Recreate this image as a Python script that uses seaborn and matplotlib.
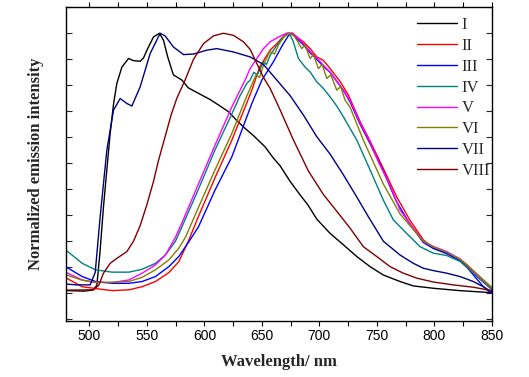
import numpy as np
import pandas as pd
import matplotlib
matplotlib.use("Agg")
import matplotlib.pyplot as plt
from matplotlib.ticker import MultipleLocator
import seaborn as sns

# emission spectra (wavelength in nm, normalized intensity)
wl_I = [480, 495, 503, 506.4, 509, 512.2, 515, 518, 521, 523.8, 528.2, 534, 538, 544, 547, 550,
        555.7, 561, 564.4, 568, 573, 580.4, 586, 594.8, 605, 613.7, 621, 628, 635.4, 643, 652.8, 660,
        665.9, 674.6, 683.3, 690, 697.8, 709.4, 721, 732.6, 744.2, 755.7, 770.2, 781.8, 799.2, 822, 850]
int_I = [0.01, 0.008, 0.012, 0.03, 0.15, 0.333, 0.47, 0.615, 0.73, 0.807, 0.87, 0.903, 0.895, 0.892, 0.905, 0.935,
         0.986, 1.0, 0.973, 0.91, 0.84, 0.82, 0.79, 0.769, 0.745, 0.72, 0.698, 0.665, 0.634, 0.605, 0.563, 0.52,
         0.49, 0.43, 0.378, 0.34, 0.285, 0.23, 0.186, 0.141, 0.102, 0.07, 0.045, 0.028, 0.019, 0.01, 0.002]

wl_II = [480, 493.7, 505.2, 519.7, 534.3, 545.8, 557.4, 569, 577.7, 586, 594.8, 609.3, 623.9, 641.3, 648, 657.2,
         663, 667, 671.7, 677, 680.4, 686.2, 692, 697.8, 703.5, 709.4, 718, 725.3, 735.5, 744.2, 755.7,
         767.4, 779, 790.5, 799.2, 810.9, 822.5, 828.3, 837, 850]
int_II = [0.058, 0.025, 0.018, 0.01, 0.013, 0.025, 0.045, 0.079, 0.121, 0.2, 0.295, 0.445, 0.589, 0.781, 0.87, 0.935,
          0.96, 0.98, 1.0, 1.0, 0.986, 0.967, 0.941, 0.909, 0.896, 0.864, 0.815, 0.762, 0.66, 0.585, 0.48,
          0.37, 0.28, 0.205, 0.175, 0.155, 0.128, 0.105, 0.065, 0.015]

wl_III = [480, 493.7, 505.2, 519.7, 534.3, 545.8, 557.4, 569, 577.7, 586, 594.8, 609.3, 623.9, 641.3, 650, 660,
          668, 673, 676, 680.4, 686.2, 692, 697.8, 703.5, 709.4, 715.2, 721, 726.8, 735.5, 744.2, 755.7,
          767.4, 779, 790.5, 799.2, 810.9, 822.5, 828.3, 836, 842.7, 848, 850]
int_III = [0.10, 0.064, 0.045, 0.038, 0.038, 0.045, 0.064, 0.102, 0.141, 0.195, 0.255, 0.397, 0.525, 0.73, 0.82, 0.89,
           0.955, 0.99, 1.0, 0.98, 0.955, 0.925, 0.9, 0.872, 0.85, 0.815, 0.78, 0.735, 0.65, 0.575, 0.47,
           0.35, 0.265, 0.195, 0.172, 0.152, 0.125, 0.1, 0.06, 0.025, 0.005, 0.0]

wl_IV = [480, 493.7, 505.2, 519.7, 534.3, 545.8, 557.4, 566.1, 574.8, 580.4, 594.8, 609.3, 623.9, 631, 636.9, 639.8,
         643, 646, 651.4, 654, 657.2, 663, 668.8, 674, 677.4, 681.8, 687.6, 692, 697.8, 703.5, 709.4, 715.2,
         721, 732.6, 744.2, 755.7, 764.4, 776, 787.6, 799.2, 810.9, 822.5, 828.3, 837, 850]
int_IV = [0.164, 0.115, 0.09, 0.081, 0.081, 0.092, 0.115, 0.147, 0.2, 0.255, 0.4, 0.552, 0.69, 0.76, 0.807, 0.82,
          0.85, 0.84, 0.89, 0.88, 0.915, 0.954, 0.986, 1.0, 0.967, 0.903, 0.87, 0.851, 0.813, 0.788, 0.755, 0.72,
          0.678, 0.589, 0.474, 0.358, 0.282, 0.23, 0.179, 0.154, 0.145, 0.122, 0.1, 0.065, 0.015]

wl_V = [480, 493.7, 505.2, 519.7, 534.3, 545.8, 557.4, 566.1, 574.8, 580.4, 594.8, 609.3, 623.9, 635.4, 639.8, 645.6,
        651.4, 657.2, 663, 667.3, 671.7, 676, 680.4, 686.2, 692, 697.8, 703.5, 709.4, 715.2, 721, 726.8,
        735.5, 744.2, 752, 761.6, 770.2, 781.8, 790.5, 799.2, 810.9, 822.5, 828.3, 837, 850]
int_V = [0.079, 0.051, 0.041, 0.041, 0.051, 0.077, 0.109, 0.147, 0.215, 0.27, 0.42, 0.57, 0.717, 0.82, 0.864, 0.903,
         0.941, 0.967, 0.982, 0.992, 1.0, 1.0, 0.986, 0.96, 0.93, 0.905, 0.877, 0.85, 0.815, 0.78, 0.74,
         0.655, 0.58, 0.5, 0.415, 0.32, 0.25, 0.2, 0.18, 0.16, 0.132, 0.11, 0.072, 0.022]

wl_VI = [480, 493.7, 505.2, 519.7, 534.3, 545.8, 557.4, 569, 577.7, 583.5, 594.8, 609.3, 623.9, 635.4, 641, 645,
         648, 652, 657, 661, 665, 670, 674, 678, 681, 684.7, 687.5, 692, 695, 699.2, 702.5, 706.5, 710,
         715.2, 718.5, 722.4, 726.8, 738.3, 755.7, 770.2, 781.8, 790.5, 799.2, 810.9, 822.5, 828.3, 837, 850]
int_VI = [0.07, 0.05, 0.042, 0.042, 0.045, 0.061, 0.09, 0.128, 0.173, 0.215, 0.33, 0.475, 0.615, 0.743, 0.80, 0.84,
          0.83, 0.885, 0.93, 0.92, 0.96, 0.99, 1.0, 0.99, 0.97, 0.941, 0.955, 0.903, 0.918, 0.864, 0.88, 0.826, 0.84,
          0.781, 0.795, 0.743, 0.715, 0.589, 0.42, 0.305, 0.245, 0.2, 0.178, 0.158, 0.13, 0.11, 0.075, 0.022]

wl_VII = [480, 489, 500.6, 505, 509.3, 515.1, 520.9, 526.7, 532.5, 536.9, 544.1, 552.8, 561.5, 565.8, 573.1,
          581.8, 590.5, 602.1, 610.8, 625.3, 639.8, 651.4, 663, 674.6, 686.2, 697.8, 709.4, 721, 732.6, 742.7,
          755.7, 770.2, 781.8, 790.5, 799.2, 810.9, 822.5, 834, 842.7, 850]
int_VII = [0.035, 0.032, 0.032, 0.08, 0.294, 0.55, 0.704, 0.749, 0.73, 0.72, 0.794, 0.922, 1.0, 0.99, 0.947,
           0.918, 0.92, 0.935, 0.941, 0.928, 0.909, 0.88, 0.82, 0.76, 0.685, 0.602, 0.535, 0.455, 0.37, 0.294,
           0.2, 0.147, 0.115, 0.096, 0.087, 0.077, 0.064, 0.045, 0.025, 0.005]

wl_VIII = [480, 503.5, 508, 512.2, 518, 523.8, 532.5, 538.3, 544.1, 549.9, 555.7, 560, 565.8, 571, 576,
           583.2, 590.5, 599.2, 607.9, 616.6, 625.3, 634, 639.8, 645.6, 651.4, 657.2, 665.9, 677.4, 690.5,
           703.5, 715.2, 726.8, 738.3, 750, 761.6, 773.1, 784.8, 799.2, 816.6, 834, 850]
int_VIII = [0.012, 0.013, 0.03, 0.077, 0.115, 0.134, 0.16, 0.2, 0.26, 0.34, 0.43, 0.51, 0.602, 0.685, 0.75,
            0.82, 0.9, 0.96, 0.99, 1.0, 0.992, 0.967, 0.938, 0.884, 0.83, 0.788, 0.705, 0.59, 0.47,
            0.38, 0.315, 0.25, 0.179, 0.141, 0.102, 0.077, 0.058, 0.043, 0.032, 0.023, 0.01]

samples = ["I", "II", "III", "IV", "V", "VI", "VII", "VIII"]
wavelengths = [wl_I, wl_II, wl_III, wl_IV, wl_V, wl_VI, wl_VII, wl_VIII]
intensities = [int_I, int_II, int_III, int_IV, int_V, int_VI, int_VII, int_VIII]
colors = ["#000000", "#FF0000", "#0000FF", "#008080", "#FF00FF", "#808000", "#000080", "#800000"]

frames = []
for name, wl, it in zip(samples, wavelengths, intensities):
    frames.append(pd.DataFrame({"wavelength": wl, "intensity": it, "sample": name}))
df = pd.concat(frames, ignore_index=True)

sns.set_style("ticks")
plt.rcParams["font.family"] = ["Liberation Sans", "DejaVu Sans"]

fig = plt.figure(figsize=(5.29, 3.77), dpi=100)
ax = fig.add_axes([0.1257, 0.1485, 0.8038, 0.8329])

sns.lineplot(data=df, x="wavelength", y="intensity", hue="sample", hue_order=samples,
             palette=dict(zip(samples, colors)), estimator=None, sort=False,
             linewidth=1.0, ax=ax)

ax.set_xlim(480, 850)
ax.set_ylim(-0.107, 1.101)
ax.xaxis.set_major_locator(MultipleLocator(50))
ax.xaxis.set_minor_locator(MultipleLocator(25))
ax.yaxis.set_major_locator(MultipleLocator(0.1))
ax.tick_params(axis="x", which="both", direction="out", top=True, bottom=True,
               length=3.5, width=0.8, labelsize=10, pad=2, colors="black")
ax.tick_params(axis="y", which="both", direction="in", left=True, right=True,
               labelleft=False, length=4, width=0.8)
for s in ax.spines.values():
    s.set_linewidth(1.0)
    s.set_color("black")

ax.set_xlabel("Wavelength/ nm", family="Liberation Serif", fontweight="bold", fontsize=12, labelpad=8)
ax.set_ylabel("Normalized emission intensity", family="Liberation Serif", fontweight="bold",
              fontsize=12, labelpad=16)

ax.legend(frameon=False, loc="upper right", bbox_to_anchor=(1.02, 1.0),
          prop={"family": "Liberation Serif", "size": 12}, handlelength=2.4,
          handletextpad=0.3, labelspacing=0.29, borderaxespad=0.2)

fig.savefig("out.png", dpi=100)
